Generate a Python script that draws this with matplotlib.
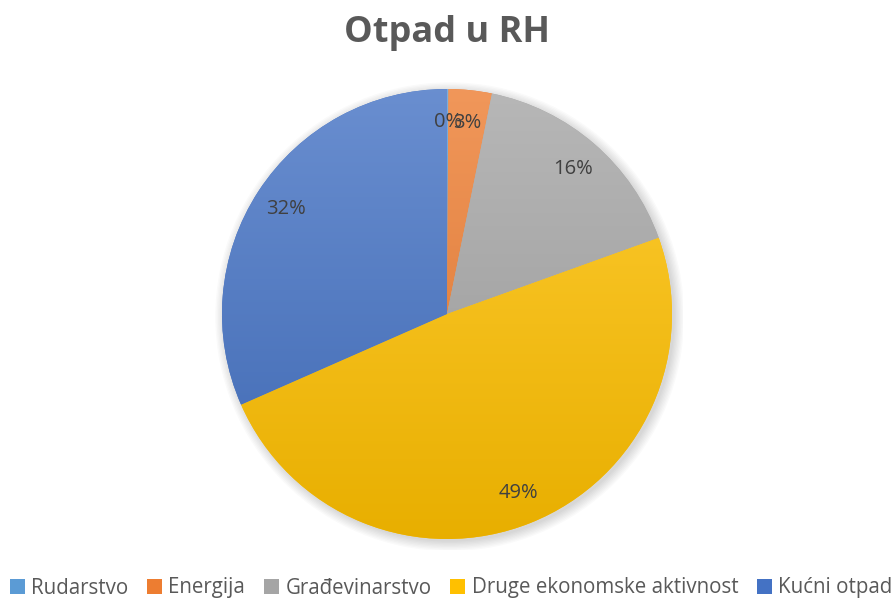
import numpy as np
import matplotlib
matplotlib.use("Agg")
import matplotlib.pyplot as plt
from matplotlib.colors import to_rgb
from matplotlib.patches import Circle

# data (shares of waste, %)
categories = ["Rudarstvo", "Energija", "Građevinarstvo",
              "Druge ekonomske aktivnost", "Kućni otpad"]
values = [0.1, 3.1, 16.3, 48.9, 31.6]
colors = ["#5B9BD5", "#ED7D31", "#A5A5A5", "#FFC000", "#4472C4"]

title = "Otpad u RH"
txt_color = "#595959"

fig = plt.figure(figsize=(8.92, 5.99), dpi=100)
W, H = 892.0, 599.0
cx, cy, r = 447.0, 314.0, 225.0
ax = fig.add_axes([(cx - r) / W, (H - cy - r) / H, 2 * r / W, 2 * r / H])

# soft shadow behind the pie
for i in range(8):
    ax.add_patch(Circle((0.012, -0.012), 1.0 + 0.006 * i, color="black",
                        alpha=0.018, lw=0, zorder=0))

wedges, texts, autotexts = ax.pie(
    values, colors=colors, startangle=90, counterclock=False, radius=1,
    autopct="%.0f%%", pctdistance=0.855,
    wedgeprops=dict(linewidth=0),
    textprops=dict(fontsize=14.5, color="#404040", family=["Open Sans", "DejaVu Sans"]))

# vertical gradient in every slice, lighter at top
for w, c in zip(wedges, colors):
    base = np.array(to_rgb(c))
    top = base + (1 - base) * 0.2
    bot = base * 0.91
    t = np.linspace(0, 1, 256)[:, None]
    grad = (1 - t) * top + t * bot
    img = np.repeat(grad[:, None, :], 2, axis=1)
    im = ax.imshow(img, extent=[-1, 1, -1, 1], origin="upper",
                   aspect="auto", zorder=1.5, interpolation="bilinear")
    im.set_clip_path(w)

for t_ in autotexts:
    t_.set_zorder(5)

ax.set_xlim(-1.05, 1.05)
ax.set_ylim(-1.05, 1.05)
ax.set_aspect("equal")
ax.axis("off")
# undo the extra margin from the limits
ax.set_position([(cx - r * 1.05) / W, (H - cy - r * 1.05) / H,
                 2 * r * 1.05 / W, 2 * r * 1.05 / H])

fig.text(cx / W, 1 - 33 / H, title, ha="center", va="center",
         fontsize=26, fontweight="bold", color=txt_color,
         family=["Open Sans", "DejaVu Sans"])

leg = fig.legend(wedges, categories, loc="center", ncol=5,
                 bbox_to_anchor=(451 / W, 1 - 588 / H), frameon=False,
                 handlelength=0.75, handleheight=0.75, handletextpad=0.3,
                 columnspacing=0.9, borderaxespad=0,
                 prop=dict(family=["Open Sans", "DejaVu Sans"], size=14.8))
for t_ in leg.get_texts():
    t_.set_color(txt_color)

fig.savefig("out.png", dpi=100)
